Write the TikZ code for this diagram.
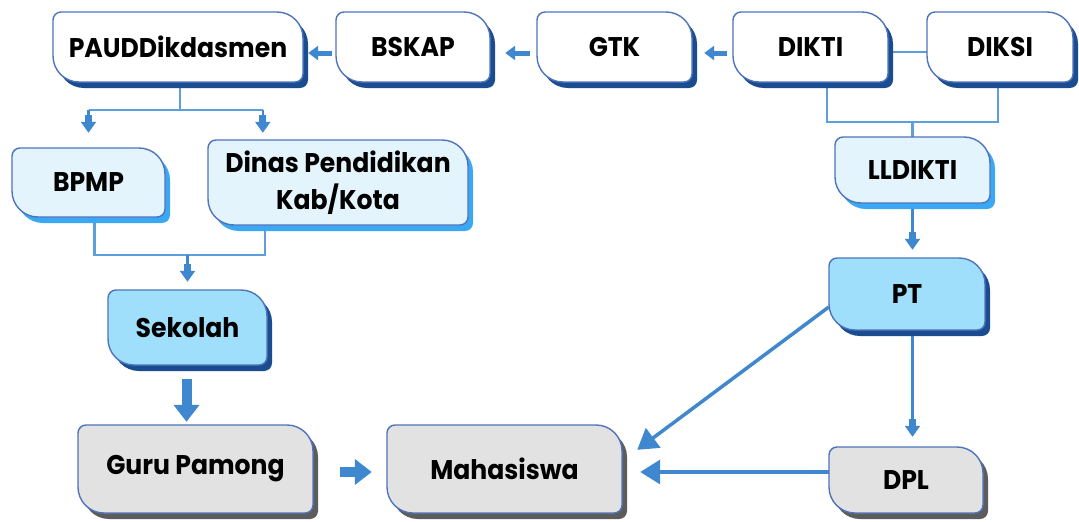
\documentclass[tikz,border=0pt]{standalone}
\usepackage{fontspec}
\setmainfont{Poppins}[FakeStretch=0.93]
\usetikzlibrary{arrows.meta}
\pgfdeclarelayer{bg}
\pgfsetlayers{bg,main}
\definecolor{bordc}{HTML}{4E74BC}
\definecolor{navy}{HTML}{1A4C8F}
\definecolor{brightsh}{HTML}{3AA8F2}
\definecolor{graysh}{HTML}{5C5C5C}
\definecolor{fwhite}{HTML}{FFFFFF}
\definecolor{flight}{HTML}{E4F4FD}
\definecolor{fsky}{HTML}{A0DFFC}
\definecolor{fgray}{HTML}{E2E2E2}
\definecolor{connc}{HTML}{3F88CF}
\definecolor{connl}{HTML}{5E9EDD}

\newcommand\shp[4]{(#1+8,#2) -- (#3-26,#2) .. controls (#3-11.6,#2) and (#3,#2+11.6) .. (#3,#2+26) -- (#3,#4-8) .. controls (#3,#4-3.6) and (#3-3.6,#4) .. (#3-8,#4) -- (#1+26,#4) .. controls (#1+11.6,#4) and (#1,#4-11.6) .. (#1,#4-26) -- (#1,#2+8) .. controls (#1,#2+3.6) and (#1+3.6,#2) .. (#1+8,#2) -- cycle}

\newcommand\mkbox[8]{%
  \fill[#7] \shp{#2+5}{#3+6}{#4+5}{#5+6};
  \filldraw[fill=#6, draw=bordc, line width=1.4pt] \shp{#2}{#3}{#4}{#5};
  \node[boxtext, minimum width={(#4-#2)*1pt}, minimum height={(#5-#3)*1pt}] (#1) at ({(#2+#4)/2},{(#3+#5)/2}) {#8};
}

\tikzset{
  boxtext/.style={draw=none, inner sep=0pt, align=center, text=black,
    font=\fontsize{27}{37}\selectfont\bfseries},
  conn/.style={draw=connl, line width=2.2pt},
  sarr/.style={draw=connc, line width=2.2pt,
    -{Rectangle[width=7pt,length=7pt]Triangle[width=15pt,length=11pt]}},
  harr/.style={draw=connc, line width=5pt, -{Triangle[width=14pt,length=10pt]}},
  barr/.style={draw=connc, line width=10pt, -{Triangle[width=25pt,length=17pt]}},
  darr/.style={draw=connc, line width=3.5pt, -{Triangle[width=24pt,length=20pt]}},
}

\begin{document}
\begin{tikzpicture}[x=1pt,y=-1pt]
\useasboundingbox (0,0) rectangle (1079,522);
\begin{pgfonlayer}{bg}
\fill[white] (0,0) rectangle (1079,522);
\end{pgfonlayer}

\mkbox{paud}{53}{12}{303}{82}{fwhite}{navy}{PAUDDikdasmen}
\mkbox{bskap}{336}{12}{490}{82}{fwhite}{navy}{BSKAP}
\mkbox{gtk}{537}{12}{692}{82}{fwhite}{navy}{GTK}
\mkbox{dikti}{733}{12}{888}{82}{fwhite}{navy}{DIKTI}
\mkbox{diksi}{927}{12}{1073}{82}{fwhite}{navy}{DIKSI}
\mkbox{bpmp}{12}{148}{165}{217}{flight}{brightsh}{BPMP}
\mkbox{dinas}{208}{140}{468}{225}{flight}{brightsh}{Dinas Pendidikan\\Kab/Kota}
\mkbox{lldikti}{835}{137}{990}{203}{flight}{brightsh}{LLDIKTI}
\mkbox{sekolah}{108}{290}{267}{365}{fsky}{navy}{Sekolah}
\mkbox{pt}{829}{258}{985}{330}{fsky}{navy}{PT}
\mkbox{guru}{78}{425}{313}{513}{fgray}{graysh}{Guru Pamong}
\mkbox{mah}{387}{425}{622}{513}{fgray}{graysh}{Mahasiswa}
\mkbox{dpl}{829}{447}{983}{513}{fgray}{graysh}{DPL}

\begin{pgfonlayer}{bg}
% top row arrows
\draw[harr, shorten <=4pt, shorten >=5pt] ([yshift=-6pt]bskap.west) -- ([yshift=-6pt]paud.east);
\draw[harr, shorten <=7pt, shorten >=15pt] ([yshift=-6pt]gtk.west) -- ([yshift=-6pt]bskap.east);
\draw[harr, shorten <=6pt, shorten >=12pt] ([yshift=-6pt]dikti.west) -- ([yshift=-6pt]gtk.east);
\draw[conn] ([yshift=-5pt]dikti.east) -- ([yshift=-5pt]diksi.west);

% PAUD to BPMP / Dinas
\coordinate (dtop) at ([xshift=55pt]dinas.north west);
\draw[conn] ([xshift=2pt]paud.south) -- ++(0,28) coordinate (pj);
\draw[conn] (pj -| bpmp.north) -- (pj -| dtop);
\draw[sarr, shorten >=15pt] (pj -| bpmp.north) -- (bpmp.north);
\draw[sarr, shorten >=7pt] (pj -| dtop) -- (dtop);

% BPMP / Dinas to Sekolah
\coordinate (dbot) at ([xshift=57pt]dinas.south west);
\draw[conn] ([xshift=6pt]bpmp.south) -- ++(0,38) coordinate (bj) -- (bj -| dbot) -- (dbot);
\draw[sarr, shorten >=8pt] (bj -| sekolah.north) -- (sekolah.north);

% Sekolah to Guru, Guru to Mahasiswa
\draw[barr, shorten <=14pt, shorten >=3pt] ([xshift=-1pt]sekolah.south) -- ([xshift=-1pt]sekolah.south |- guru.north);
\draw[barr, shorten <=27pt, shorten >=15pt] ([yshift=-3pt]guru.east) -- ([yshift=-3pt]mah.west);

% DIKTI / DIKSI to LLDIKTI
\coordinate (dka) at ([xshift=94pt]dikti.south west);
\coordinate (dkb) at ([xshift=71pt]diksi.south west);
\draw[conn] (dka) -- ++(0,40) coordinate (kj) -- (kj -| dkb) -- (dkb);
\draw[conn] (kj -| lldikti.north) -- (lldikti.north);

% LLDIKTI to PT, PT to DPL
\draw[sarr, shorten >=8pt] (lldikti.south) -- (lldikti.south |- pt.north);
\draw[sarr, shorten >=10pt] (lldikti.south |- pt.south) -- (lldikti.south |- dpl.north);

% PT to Mahasiswa, DPL to Mahasiswa
\coordinate (ptl) at ([yshift=-13pt]pt.west);
\coordinate (mtip) at ([xshift=15pt,yshift=-25pt]mah.north east);
\draw[darr] (ptl) -- (mtip);
\draw[darr, shorten >=18pt] ([yshift=8pt]dpl.west) -- ([yshift=8pt]dpl.west -| mah.east);
\end{pgfonlayer}
\end{tikzpicture}
\end{document}
